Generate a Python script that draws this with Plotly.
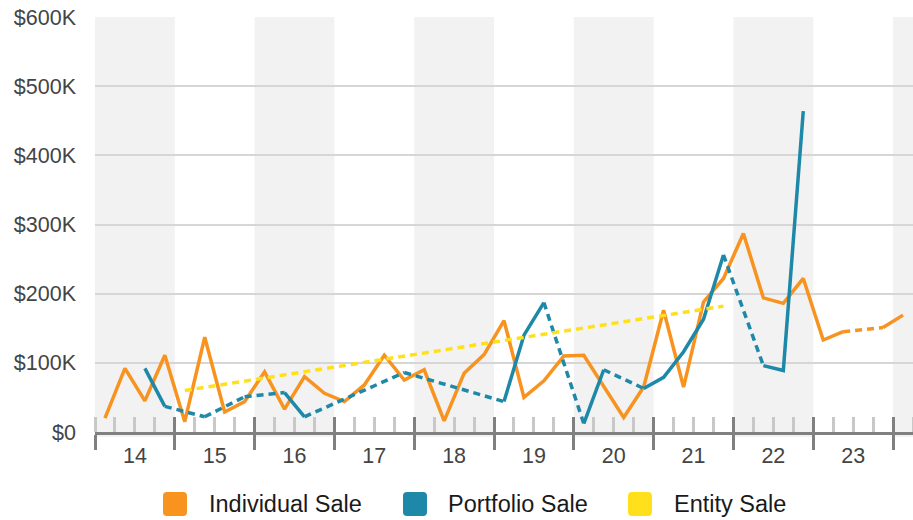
import plotly.graph_objects as go

# ---------------- data ----------------
years = [14, 15, 16, 17, 18, 19, 20, 21, 22, 23, 24]
year_labels = ["14", "15", "16", "17", "18", "19", "20", "21", "22", "23"]
quarters = [f"{y}Q{q}" for y in range(14, 24) for q in range(1, 5)] + ["24Q1"]

individual_sale = [
    20, 92, 45, 111,
    15, 137, 29, 44,
    87, 33, 80, 56,
    44, 68, 111, 75,
    90, 16, 85, 112,
    161, 50, 74, 110,
    111, 65, 21, 65,
    176, 65, 188, 222,
    287, 194, 186, 222,
    133, 145, None, 151,
    169,
]
portfolio_sale = [
    None, None, 92, 37,
    None, 22, None, 51,
    None, 57, 22, None,
    None, None, None, 86,
    None, None, None, None,
    44, 140, 187, None,
    12, 90, None, 63,
    79, 116, 163, 256,
    None, 96, 89, 464,
    None, None, None, None,
    None,
]
entity_sale = [None] * 41
entity_sale[4] = 60      # 15Q1
entity_sale[31] = 182    # 21Q4

series_names = ["Individual Sale", "Portfolio Sale", "Entity Sale"]
series_values = [individual_sale, portfolio_sale, entity_sale]
series_colors = ["#F7931E", "#1E88A8", "#FFE01A"]

y_ticks = [0, 100000, 200000, 300000, 400000, 500000, 600000]
y_tick_labels = ["$0", "$100K", "$200K", "$300K", "$400K", "$500K", "$600K"]


def qx(label):
    y, q = label.split("Q")
    return int(y) + (int(q) - 0.5) / 4


xs = [qx(q) for q in quarters]

# ---------------- layout geometry ----------------
W, H = 913, 520
L, R, T, B = 95, 0, 17, 88
PW, PH = W - L - R, H - T - B


def pp(px, py):
    return (px - L) / PW, (H - B - py) / PH


fig = go.Figure()

LW = 3.5
for name, vals, col in zip(series_names, series_values, series_colors):
    yv = [v * 1000 if v is not None else None for v in vals]
    # dotted bridges over missing quarters
    bx, by = [], []
    idx = [i for i, v in enumerate(yv) if v is not None]
    for a, b in zip(idx[:-1], idx[1:]):
        if b - a > 1:
            bx += [xs[a], xs[b], None]
            by += [yv[a], yv[b], None]
    fig.add_trace(go.Scatter(x=bx, y=by, mode="lines", name=name, showlegend=False,
                             line=dict(color=col, width=LW, dash="7px,5px"),
                             connectgaps=False, hoverinfo="skip"))
    fig.add_trace(go.Scatter(x=xs, y=yv, mode="lines", name=name, showlegend=False,
                             line=dict(color=col, width=LW), connectgaps=False))

# helper traces for overlay axes
fig.add_trace(go.Scatter(x=[14.5], y=[None], xaxis="x2", showlegend=False, hoverinfo="skip"))
fig.add_trace(go.Scatter(x=[14.5], y=[None], xaxis="x3", showlegend=False, hoverinfo="skip"))

shapes = []
for y in years:
    if y % 2 == 0:
        shapes.append(dict(type="rect", xref="x", yref="paper", x0=y, x1=y + 1,
                           y0=-5 / PH, y1=1, fillcolor="#F2F2F2", line=dict(width=0),
                           layer="below"))

# custom legend
legend_sq_cx = [175, 415, 640]
legend_text_x = [207, 446, 672]
legend_cy = 504
annotations = []
h, r = 12, 4
for name, col, cx, tx in zip(series_names, series_colors, legend_sq_cx, legend_text_x):
    cy = legend_cy
    pts = [
        ("M", [(cx - h + r, cy - h)]),
        ("L", [(cx + h - r, cy - h)]),
        ("Q", [(cx + h, cy - h), (cx + h, cy - h + r)]),
        ("L", [(cx + h, cy + h - r)]),
        ("Q", [(cx + h, cy + h), (cx + h - r, cy + h)]),
        ("L", [(cx - h + r, cy + h)]),
        ("Q", [(cx - h, cy + h), (cx - h, cy + h - r)]),
        ("L", [(cx - h, cy - h + r)]),
        ("Q", [(cx - h, cy - h), (cx - h + r, cy - h)]),
    ]
    path = ""
    for cmd, ps in pts:
        path += cmd + " " + " ".join(f"{pp(a, b)[0]:.5f},{pp(a, b)[1]:.5f}" for a, b in ps) + " "
    path += "Z"
    shapes.append(dict(type="path", xref="paper", yref="paper", path=path,
                       fillcolor=col, line=dict(width=0)))
    ax_, ay_ = pp(tx, cy)
    annotations.append(dict(text=name, x=ax_, y=ay_, xref="paper", yref="paper",
                            xanchor="left", yanchor="middle", showarrow=False,
                            font=dict(size=23.5, color="#1A1A1A")))

FONT = "Liberation Sans, Arial, Helvetica, sans-serif"
xr = [14, 24.25]

fig.update_layout(
    width=W, height=H, autosize=False,
    margin=dict(l=L, r=R, t=T, b=B, pad=0),
    paper_bgcolor="white", plot_bgcolor="white",
    font=dict(family=FONT, color="#444"),
    showlegend=False,
    shapes=shapes, annotations=annotations,
    xaxis=dict(range=xr, tickmode="array", tickvals=years, ticktext=[""] * len(years),
               ticks="outside", ticklen=15, tickwidth=3, tickcolor="#808080",
               showline=True, linecolor="#808080", linewidth=3,
               showgrid=False, zeroline=False, layer="below traces",
               minor=dict(tickmode="linear", tick0=14, dtick=0.25, ticks="inside",
                          ticklen=15, tickwidth=3, tickcolor="#C8C8C8", showgrid=False)),
    xaxis2=dict(overlaying="x", matches="x", anchor="y", side="bottom", range=xr,
                tickmode="array", tickvals=years, ticks="inside", ticklen=15,
                tickwidth=3, tickcolor="#808080", showticklabels=False,
                showgrid=False, zeroline=False, showline=False, layer="below traces"),
    xaxis3=dict(overlaying="x", matches="x", anchor="y", side="bottom", range=xr,
                tickmode="array", tickvals=[y + 0.5 for y in years[:-1]],
                ticktext=year_labels, ticks="", showgrid=False, zeroline=False,
                showline=False, ticklabelstandoff=8,
                tickfont=dict(size=21.5, color="#444", family=FONT)),
    yaxis=dict(range=[0, 600000], tickmode="array", tickvals=y_ticks,
               ticktext=y_tick_labels, ticks="", showgrid=True, gridcolor="#D6D6D6",
               gridwidth=1.5, zeroline=False, showline=False, ticklabelstandoff=18,
               tickfont=dict(size=21.5, color="#444", family=FONT)),
)

fig.write_html("out.html", config={"displayModeBar": False},
               post_script="document.body.style.margin='0';document.body.style.overflow='hidden';")
